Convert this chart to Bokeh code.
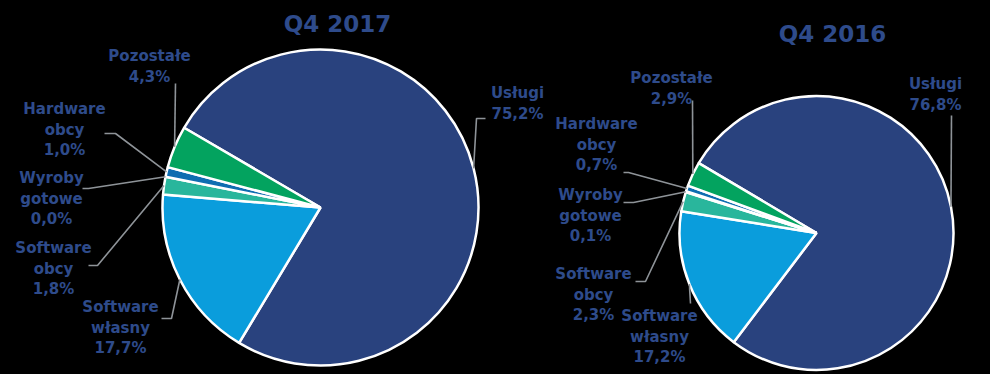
import math
from bokeh.plotting import figure
from bokeh.models import Range1d
from bokeh.core.properties import value
from bokeh.embed import file_html
from bokeh.resources import INLINE

# ---------------- data ----------------
categories = ["Usługi", "Software własny", "Software obcy", "Wyroby gotowe", "Hardware obcy", "Pozostałe"]
label_names = [["Usługi"], ["Software", "własny"], ["Software", "obcy"], ["Wyroby", "gotowe"],
               ["Hardware", "obcy"], ["Pozostałe"]]
values_2017 = [75.2, 17.7, 1.8, 0.0, 1.0, 4.3]
values_2016 = [76.8, 17.2, 2.3, 0.1, 0.7, 2.9]
titles = ["Q4 2017", "Q4 2016"]

# ---------------- style ----------------
slice_colors = ["#29427E", "#0A9DDC", "#29B69C", "#8FA8C8", "#0E6DB1", "#03A35F"]
text_color = "#2E4B8B"
leader_color = "#8E9398"
W, H = 990, 374  # page size; screen coords are flipped into data coords
LINE = 20.5      # label line spacing (px)
LABEL_DY = 0     # baseline shift relative to line centre
TITLE_DY = -9

# ---------------- layout (screen coords) ----------------
layouts = [
    dict(values=values_2017, title=titles[0], cx=320, cy=207, r=158, start=149.7,
         title_pos=(337, 32),
         label_pos=[(517, 103), (120, 327), (53, 268), (51, 198), (64, 129), (149, 66)],
         leader=[[(485, 118), (476, 118)], [(161, 318), (171, 318)], [(88, 265), (97, 265)],
                 [(82, 188), (88, 188)], [(104, 133), (115, 133)], [(175, 83)]]),
    dict(values=values_2016, title=titles[1], cx=816, cy=232.5, r=137, start=149.3,
         title_pos=(832, 42),
         label_pos=[(935, 94), (659, 336), (593, 294), (590, 215), (596, 144), (671, 88)],
         leader=[[(951, 115)], [(690, 303)], [(635, 281), (645, 281)],
                 [(623, 202), (633, 202)], [(623, 172), (628, 172)], [(692, 100)]]),
]

p = figure(width=W, height=H, output_backend="svg", toolbar_location=None,
           x_range=Range1d(0, W), y_range=Range1d(0, H),
           min_border=0, background_fill_color="black", border_fill_color="black")
p.axis.visible = False
p.grid.visible = False
p.outline_line_color = None

font = value("DejaVu Sans")

for L in layouts:
    vals = L["values"]
    total = sum(vals)
    cx, r = L["cx"], L["r"]
    cy = H - L["cy"]
    a = L["start"]
    ws, we, wc, mids = [], [], [], []
    for v, c in zip(vals, slice_colors):
        sweep = v / total * 360.0
        mids.append(math.radians(a - sweep / 2))
        if v > 0:
            ws.append(math.radians(a - sweep))
            we.append(math.radians(a))
            wc.append(c)
        a -= sweep
    p.wedge(x=[cx] * len(ws), y=[cy] * len(ws), radius=r,
            start_angle=ws, end_angle=we, direction="anticlock",
            fill_color=wc, line_color="white", line_width=2.5)

    # leader lines
    xs, ys = [], []
    for pts, m in zip(L["leader"], mids):
        px = cx + r * math.cos(m)
        py = cy + r * math.sin(m)
        xs.append([q[0] for q in pts] + [px])
        ys.append([H - q[1] for q in pts] + [py])
    p.multi_line(xs=xs, ys=ys, line_color=leader_color, line_width=1.6)

    # labels (one text per line, alphabetic baseline)
    tx, ty, tt = [], [], []
    for names, v, (lx, lyc) in zip(label_names, vals, L["label_pos"]):
        lines = names + [f"{v:.1f}".replace(".", ",") + "%"]
        n = len(lines)
        for i, s in enumerate(lines):
            yc = lyc + (i - (n - 1) / 2) * LINE
            tx.append(lx)
            ty.append(H - (yc + LABEL_DY))
            tt.append(s)
    p.text(x=tx, y=ty, text=tt, text_align="center", text_baseline="alphabetic",
           text_font=font, text_font_style="bold", text_font_size="15px", text_color=text_color)

    # title
    p.text(x=[L["title_pos"][0]], y=[H - (L["title_pos"][1] + TITLE_DY)], text=[L["title"]],
           text_align="center", text_baseline="alphabetic", text_font=font,
           text_font_style="bold", text_font_size="23px", text_color=text_color)

html = file_html(p, INLINE)
html = html.replace("<head>", "<head><style>html, body { background: #000; }</style>", 1)
open("out.html", "w").write(html)
